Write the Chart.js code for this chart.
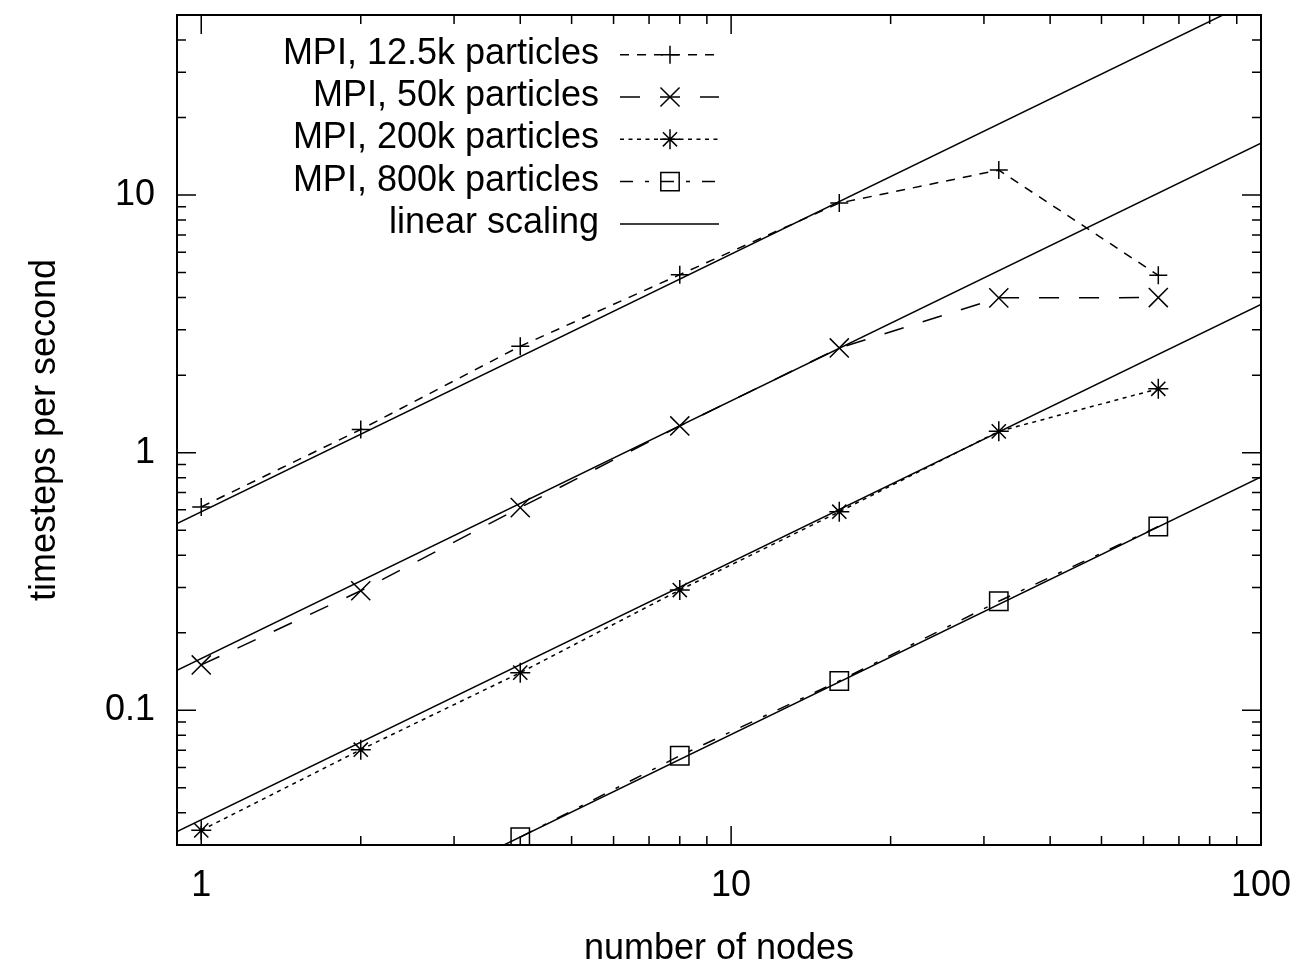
<!DOCTYPE html>
<html>
<head>
<meta charset="utf-8">
<title>MPI scaling</title>
<script src="https://cdn.jsdelivr.net/npm/chart.js@4.4.1/dist/chart.umd.min.js"></script>
<style>
    html, body {
        margin: 0;
        padding: 0;
        background: #ffffff;
    }
    canvas {
        display: block;
    }
</style>
</head>
<body>
<canvas id="chart" width="1303" height="968"></canvas>
<script>
// values (log-log)
const nodes = [1, 2, 4, 8, 16, 32, 64];

const mpi12k = [0.616, 1.23, 2.59, 4.91, 9.31, 12.5, 4.88];
const mpi50k = [0.150, 0.291, 0.612, 1.27, 2.55, 3.99, 4.00];
const mpi200k = [0.0342, 0.0703, 0.140, 0.293, 0.590, 1.21, 1.77];
const mpi800k = [null, null, 0.0322, 0.0666, 0.130, 0.265, 0.517];

// linear scaling reference lines, end points at the x range limits
const linearNodes = [0.9, 100];
const linear12k = [0.531, 59.0];
const linear50k = [0.143, 15.9];
const linear200k = [0.0338, 3.76];
const linear800k = [0.00725, 0.805];

const xTicks = [1, 10, 100];
const yTicks = [0.1, 1, 10];

const seriesLabels = [
    "MPI, 12.5k particles",
    "MPI, 50k particles",
    "MPI, 200k particles",
    "MPI, 800k particles",
    "linear scaling"
];

const FONT = "'Liberation Sans', Arial, Helvetica, sans-serif";
Chart.defaults.font.family = FONT;
Chart.defaults.color = "#000";

function points(xs, ys) {
    return xs
        .map((x, i) => ({ x: x, y: ys[i] }))
        .filter(p => p.y !== null);
}

function measured(label, values, style, radius, dash) {
    return {
        label: label,
        data: points(nodes, values),
        borderColor: "#000",
        borderWidth: 1.5,
        borderDash: dash,
        pointStyle: style,
        pointRadius: radius,
        pointBorderWidth: 1.5,
        pointBorderColor: "#000",
        pointBackgroundColor: "rgba(0,0,0,0)",
        fill: false,
        tension: 0
    };
}

function linear(values) {
    return {
        label: seriesLabels[4],
        data: points(linearNodes, values),
        borderColor: "#000",
        borderWidth: 1.5,
        pointRadius: 0,
        fill: false,
        tension: 0
    };
}

const datasets = [
    measured(seriesLabels[0], mpi12k, "cross", 9, [9, 8]),
    measured(seriesLabels[1], mpi50k, "crossRot", 13.5, [20, 20]),
    measured(seriesLabels[2], mpi200k, "star", 10, [4, 4.5]),
    measured(seriesLabels[3], mpi800k, "rect", 13, [13, 12, 4, 12]),
    linear(linear12k),
    linear(linear50k),
    linear(linear200k),
    linear(linear800k)
];

// gnuplot style frame with inward ticks on all four sides
const frameTicks = {
    id: "frameTicks",
    afterDraw(chart) {
        const { ctx, chartArea: a } = chart;
        const x = chart.scales.x;
        const y = chart.scales.y;
        ctx.save();
        ctx.strokeStyle = "#000";
        ctx.lineWidth = 1.5;
        ctx.beginPath();
        for (let e = -3; e <= 2; e++) {
            for (let m = 1; m <= 9; m++) {
                const v = m * Math.pow(10, e);
                const len = m === 1 ? 19 : 9;
                if (v > x.min && v <= x.max) {
                    const px = x.getPixelForValue(v);
                    ctx.moveTo(px, a.bottom);
                    ctx.lineTo(px, a.bottom - len);
                    ctx.moveTo(px, a.top);
                    ctx.lineTo(px, a.top + len);
                }
                if (v > y.min && v < y.max) {
                    const py = y.getPixelForValue(v);
                    ctx.moveTo(a.left, py);
                    ctx.lineTo(a.left + len, py);
                    ctx.moveTo(a.right, py);
                    ctx.lineTo(a.right - len, py);
                }
            }
        }
        ctx.stroke();
        ctx.lineWidth = 2;
        ctx.strokeRect(a.left, a.top, a.right - a.left, a.bottom - a.top);
        ctx.restore();
    }
};

// key in the top left corner: right aligned text, sample line on the right
const keyBox = {
    id: "keyBox",
    afterDraw(chart) {
        const { ctx, chartArea: a } = chart;
        ctx.save();
        ctx.font = "36px " + FONT;
        ctx.fillStyle = "#000";
        ctx.strokeStyle = "#000";
        ctx.textAlign = "right";
        ctx.textBaseline = "middle";
        for (let i = 0; i < 5; i++) {
            const ds = chart.data.datasets[i];
            const rowY = a.top + 38.7 + i * 42.3;
            ctx.fillText(seriesLabels[i], a.left + 422, rowY);

            ctx.lineWidth = 1.5;
            ctx.setLineDash(ds.borderDash || []);
            ctx.beginPath();
            ctx.moveTo(a.left + 443, rowY + 1);
            ctx.lineTo(a.left + 542, rowY + 1);
            ctx.stroke();
            ctx.setLineDash([]);

            if (ds.pointRadius) {
                ctx.fillStyle = "rgba(0,0,0,0)";
                Chart.helpers.drawPoint(ctx, {
                    pointStyle: ds.pointStyle,
                    radius: ds.pointRadius,
                    rotation: 0,
                    borderWidth: ds.pointBorderWidth
                }, a.left + 493, rowY + 1);
                ctx.fillStyle = "#000";
            }
        }
        ctx.restore();
    }
};

new Chart(document.getElementById("chart"), {
    type: "line",

    data: {
        datasets: datasets
    },

    options: {
        responsive: false,
        animation: false,
        events: [],

        layout: {
            padding: { top: 12, right: 42, bottom: 0, left: 0 }
        },

        plugins: {
            legend: { display: false },
            tooltip: { enabled: false }
        },

        scales: {
            x: {
                type: "logarithmic",
                min: 0.9,
                max: 100,
                afterBuildTicks: s => {
                    s.ticks = xTicks.map(v => ({ value: v }));
                },
                afterFit: s => {
                    s.height = 123;
                    s.paddingLeft = 0;
                    s.paddingRight = 0;
                },
                grid: { display: false, drawTicks: false },
                border: { display: false },
                ticks: {
                    font: { size: 36 },
                    color: "#000",
                    padding: 19,
                    maxRotation: 0,
                    autoSkip: false,
                    callback: v => String(v)
                },
                title: {
                    display: true,
                    text: "number of nodes",
                    font: { size: 36, lineHeight: 1.05 },
                    color: "#000",
                    padding: { top: 0, bottom: 0 }
                }
            },

            y: {
                type: "logarithmic",
                min: 0.03,
                max: 50,
                afterBuildTicks: s => {
                    s.ticks = yTicks.map(v => ({ value: v }));
                },
                afterFit: s => {
                    s.width = 177;
                    s.paddingTop = 0;
                    s.paddingBottom = 0;
                },
                grid: { display: false, drawTicks: false },
                border: { display: false },
                ticks: {
                    font: { size: 36 },
                    color: "#000",
                    padding: 22,
                    autoSkip: false,
                    callback: v => String(v)
                },
                title: {
                    display: true,
                    text: "timesteps per second",
                    font: { size: 36 },
                    color: "#000",
                    padding: { top: 23, bottom: 0 }
                }
            }
        }
    },

    plugins: [frameTicks, keyBox]
});
</script>
</body>
</html>
